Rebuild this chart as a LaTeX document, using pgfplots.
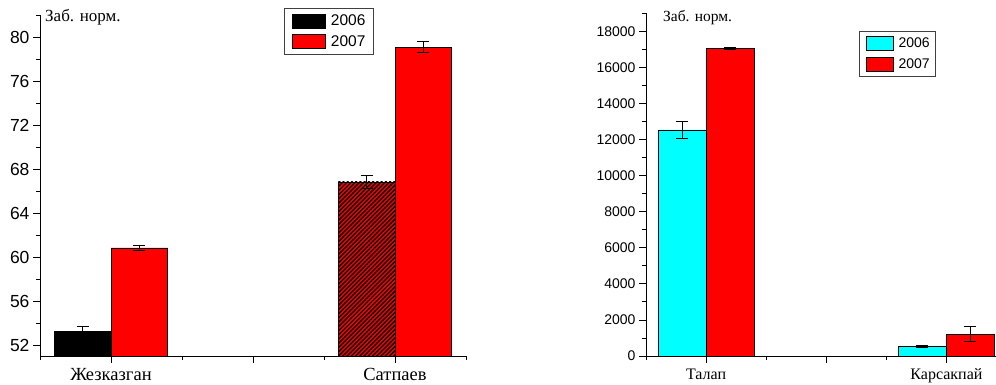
\documentclass[border=0pt]{standalone}
\usepackage{pgfplots}
\pgfplotsset{compat=1.18}
\usetikzlibrary{patterns.meta}
\usepackage{fontspec}
\setmainfont{Liberation Serif}
\newfontfamily\arial{Liberation Sans}
\definecolor{oricyan}{RGB}{0,255,255}
\definecolor{orired}{RGB}{255,0,0}

\pgfplotstableread{
x y e
0.6 53.27 0.45
}\leftA
\pgfplotstableread{
x y e
1.4 60.82 0.20
5.4 79.09 0.47
}\leftB
\pgfplotstableread{
x y e
4.6 66.82 0.60
}\leftC
\pgfplotstableread{
x y e
0.6 12530 450
4.6 540 50
}\rightA
\pgfplotstableread{
x y e
1.4 17030 50
5.4 1210 410
}\rightB

\begin{document}
\begin{tikzpicture}[x=1pt,y=1pt]
\useasboundingbox (0,0) rectangle (996,385);
\def\legw{33pt}
\pgfplotsset{
  mybar/.style={ybar, bar width=0.8, bar shift=0pt, draw=black, line width=0.8pt,
    legend image code/.code={\draw[##1, line width=0.8pt] (0pt,-7pt) rectangle (\legw,7pt);},
    error bars/y dir=both, error bars/y explicit,
    error bars/error mark options={black, line width=0.8pt, mark size=6pt, rotate=90},
    error bars/error bar style={black, line width=0.8pt}},
  common/.style={
    scale only axis, anchor=south west,
    axis x line*=bottom, axis y line*=left,
    axis line style={black, line width=0.8pt},
    tick style={black, line width=0.8pt},
    tick align=outside,
    major tick length=7pt, minor tick length=4pt,
    /pgf/number format/assume math mode=true,
    /pgf/number format/1000 sep={},
    scaled y ticks=false,
    legend cell align=left,
  },
}
\begin{axis}[common,
  at={(40pt,29pt)}, width=426pt, height=341pt,
  xmin=0, xmax=6, ymin=51, ymax=82,
  xtick={1,3,5}, xticklabels={Жезказган,,Сатпаев}, minor xtick={0,2,4,6},
  ytick={52,56,...,80}, minor ytick={54,58,...,82},
  yticklabel style={font=\arial\fontsize{17.5}{18}\selectfont},
  xticklabel style={font=\fontsize{18.5}{19}\selectfont, yshift=-2pt},
  legend style={at={(axis description cs:0.572,1.0205)}, anchor=north west,
    draw=black!75, line width=1pt, font=\arial\fontsize{15.5}{16}\selectfont,
    nodes={inner sep=0pt}, column sep=5pt,
    inner xsep=8pt, inner ysep=5pt, row sep=6pt},
]
\addplot[mybar, fill=black] table[x=x, y=y, y error=e] {\leftA};
\addlegendentry{2006}
\addplot[mybar, fill=orired] table[x=x, y=y, y error=e] {\leftB};
\addlegendentry{2007}
\addplot[mybar, fill=orired, forget plot, postaction={pattern={Lines[angle=45, distance=3pt, line width=1.4pt]}, pattern color=black}] table[x=x, y=y, y error=e] {\leftC};
\end{axis}
\node[anchor=base west, font=\fontsize{17}{17}\selectfont, inner sep=0pt] at (45,363) {Заб. норм.};

\def\legw{27pt}
\begin{axis}[common,
  at={(646pt,29pt)}, width=349.7pt, height=342.8pt,
  xmin=0, xmax=5.82, ymin=0, ymax=19000,
  xtick={1,3,5}, xticklabels={Талап,,Карсакпай}, minor xtick={0,2,4},
  ytick={0,2000,...,18000}, minor ytick={1000,3000,...,19000},
  yticklabel style={font=\arial\fontsize{14}{15}\selectfont},
  xticklabel style={font=\fontsize{16}{17}\selectfont, yshift=-2pt},
  legend style={at={(axis description cs:0.610,0.949)}, anchor=north west,
    draw=black!75, line width=1pt, font=\arial\fontsize{14}{15}\selectfont,
    nodes={inner sep=0pt}, column sep=5pt,
    inner xsep=6pt, inner ysep=5pt, row sep=6pt},
]
\addplot[mybar, fill=oricyan] table[x=x, y=y, y error=e] {\rightA};
\addlegendentry{2006}
\addplot[mybar, fill=orired] table[x=x, y=y, y error=e] {\rightB};
\addlegendentry{2007}
\end{axis}
\node[anchor=base west, font=\fontsize{15.5}{16}\selectfont, inner sep=0pt] at (663,363) {Заб. норм.};
\end{tikzpicture}
\end{document}
